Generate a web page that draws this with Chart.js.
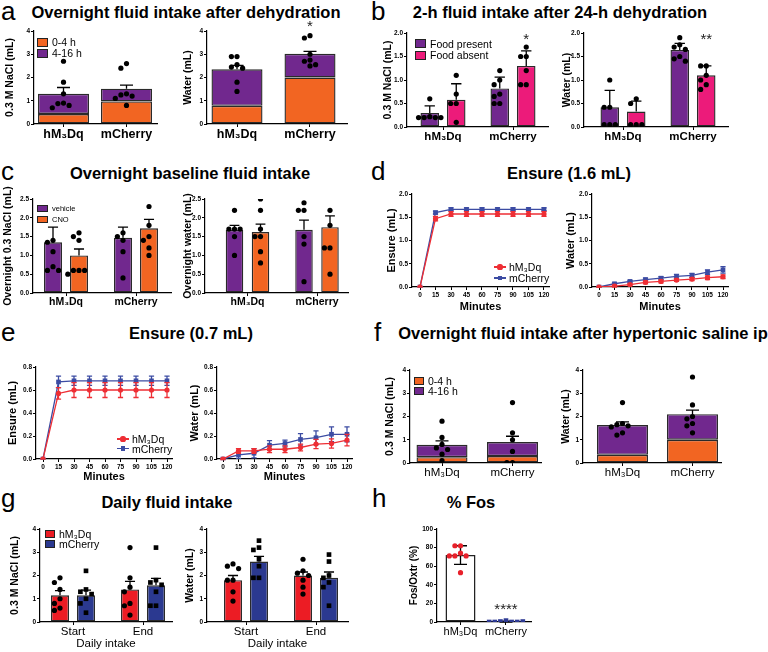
<!DOCTYPE html>
<html>
<head>
<meta charset="utf-8">
<title>Fluid intake figure</title>
<script src="https://cdn.jsdelivr.net/npm/chart.js@4.4.0/dist/chart.umd.min.js"></script>
<style>
  body { margin: 0; background: #fff; }
  #fig { position: relative; width: 768px; height: 652px; overflow: hidden; }
  #fig canvas { position: absolute; }
</style>
</head>
<body>
<div id="fig"></div>
<script>
// ---- categories / labels ----
const cats = ['hM\u2083Dq', 'mCherry'];
const periods = ['Start', 'End'];
const phases = ['0-4 h', '4-16 h'];
const foodStates = ['Food present', 'Food absent'];
const treatments = ['vehicle', 'CNO'];
const minutes = [0, 15, 30, 45, 60, 75, 90, 105, 120];

// ---- (a) overnight intake after dehydration ----
const aNaclEarly = [0.43, 0.97];
const aNaclLate = [0.87, 0.55];
const aNaclSem = [1.57, 1.67];
const aNaclDots = [[2.7, 1.8, 1.3, 0.9, 0.88, 0.8, 0.7], [2.6, 2.4, 1.3, 1.25, 1.2, 1.1, 0.8]];
const aWaterEarly = [0.78, 2.0];
const aWaterLate = [1.57, 1.02];
const aWaterSem = [2.52, 3.12];
const aWaterDots = [[2.9, 2.9, 2.55, 2.45, 2.4, 1.8, 1.4], [3.8, 3.7, 3.0, 2.75, 2.7, 2.55, 2.5]];

// ---- (b) 2-h intake after 24-h dehydration ----
const bNaclPresent = [0.3, 0.82];
const bNaclPresentSd = [0.45, 1.06];
const bNaclAbsent = [0.58, 1.3];
const bNaclAbsentSd = [0.92, 1.62];
const bNaclDotsPresent = [[0.6, 0.22, 0.2, 0.2, 0.2, 0.2], [1.2, 1.0, 0.9, 0.7, 0.65, 0.5, 0.5]];
const bNaclDotsAbsent = [[1.1, 0.7, 0.5, 0.5, 0.1], [1.7, 1.5, 1.5, 1.2, 0.9, 0.9]];
const bWaterPresent = [0.42, 1.64];
const bWaterPresentSd = [0.78, 1.78];
const bWaterAbsent = [0.33, 1.1];
const bWaterAbsentSd = [0.55, 1.3];
const bWaterDotsPresent = [[1.0, 0.42, 0.42, 0.05, 0.05, 0.05], [1.9, 1.75, 1.7, 1.65, 1.5, 1.45, 1.4]];
const bWaterDotsAbsent = [[0.6, 0.5, 0.05, 0.05, 0.05], [1.3, 1.3, 1.1, 1.0, 0.9, 0.8]];

// ---- (c) overnight baseline intake ----
const cNaclVeh = [1.35, 1.47];
const cNaclVehSem = [1.75, 1.75];
const cNaclCno = [1.0, 1.72];
const cNaclCnoSem = [1.17, 1.96];
const cNaclDotsVeh = [[1.4, 1.35, 1.1, 0.7, 0.6, 0.6], [1.6, 1.5, 1.4, 1.1, 0.4]];
const cNaclDotsCno = [[1.6, 1.5, 1.4, 0.6, 0.6, 0.6, 0.5], [2.3, 1.8, 1.5, 1.4, 1.2, 1.0]];
const cWaterVeh = [1.68, 1.68];
const cWaterVehSem = [1.8, 1.94];
const cWaterCno = [1.62, 1.75];
const cWaterCnoSem = [1.83, 2.05];
const cWaterDotsVeh = [[2.2, 1.7, 1.7, 1.7, 1.5, 1.0], [2.4, 2.2, 2.2, 1.5, 1.3, 0.3]];
const cWaterDotsCno = [[2.5, 2.2, 1.7, 1.5, 1.5, 1.1, 0.8], [2.2, 1.8, 1.2, 1.2, 0.5]];

// ---- (d) Ensure 1.6 mL ----
const dEnsureHm = [0, 1.47, 1.57, 1.57, 1.57, 1.57, 1.57, 1.57, 1.57];
const dEnsureHmErr = [0, 0.05, 0.05, 0.05, 0.05, 0.05, 0.05, 0.05, 0.05];
const dEnsureMc = [0, 1.6, 1.67, 1.67, 1.67, 1.67, 1.67, 1.67, 1.67];
const dEnsureMcErr = [0, 0.03, 0.03, 0.03, 0.03, 0.03, 0.03, 0.03, 0.03];
const dWaterHm = [0, 0.02, 0.05, 0.1, 0.12, 0.15, 0.17, 0.2, 0.22];
const dWaterHmErr = [0.01, 0.02, 0.02, 0.03, 0.03, 0.03, 0.03, 0.04, 0.04];
const dWaterMc = [0, 0.07, 0.12, 0.16, 0.19, 0.23, 0.25, 0.32, 0.37];
const dWaterMcErr = [0.01, 0.02, 0.02, 0.03, 0.03, 0.04, 0.04, 0.05, 0.07];

// ---- (e) Ensure 0.7 mL ----
const eEnsureHm = [0, 0.57, 0.6, 0.6, 0.6, 0.6, 0.6, 0.6, 0.6];
const eEnsureHmErr = [0, 0.05, 0.065, 0.065, 0.065, 0.065, 0.065, 0.065, 0.065];
const eEnsureMc = [0, 0.67, 0.68, 0.68, 0.68, 0.68, 0.68, 0.68, 0.68];
const eEnsureMcErr = [0, 0.05, 0.04, 0.04, 0.04, 0.04, 0.04, 0.04, 0.04];
const eWaterHm = [0, 0.07, 0.07, 0.085, 0.085, 0.1, 0.13, 0.135, 0.165];
const eWaterHmErr = [0.005, 0.02, 0.02, 0.03, 0.03, 0.03, 0.04, 0.04, 0.05];
const eWaterMc = [0, 0.035, 0.05, 0.12, 0.135, 0.17, 0.185, 0.215, 0.215];
const eWaterMcErr = [0.005, 0.03, 0.04, 0.04, 0.03, 0.05, 0.06, 0.065, 0.065];

// ---- (f) after hypertonic saline ip ----
const fNaclEarly = [0.25, 0.3];
const fNaclLate = [0.53, 0.6];
const fNaclSem = [0.95, 1.15];
const fNaclDots = [[1.8, 1.1, 0.8, 0.65, 0.58, 0.38, 0.1], [2.6, 1.3, 1.0, 0.5, 0.02, 0.02]];
const fWaterEarly = [0.35, 1.0];
const fWaterLate = [1.28, 1.1];
const fWaterSem = [1.77, 2.27];
const fWaterDots = [[2.6, 1.7, 1.65, 1.6, 1.55, 1.3, 1.2], [3.7, 2.5, 2.0, 1.9, 1.7, 1.6, 1.3]];

// ---- (g) daily intake ----
const gNaclHm = [1.15, 1.4];
const gNaclHmSem = [1.35, 1.75];
const gNaclMc = [1.15, 1.58];
const gNaclMcSem = [1.37, 1.88];
const gNaclDotsHm = [[1.9, 1.7, 1.4, 1.0, 0.8, 0.6, 0.5], [3.2, 1.9, 1.5, 1.3, 0.8, 0.7, 0.3]];
const gNaclDotsMc = [[2.2, 1.4, 1.3, 1.2, 1.0, 0.8, 0.4], [3.2, 1.8, 1.7, 1.6, 1.3, 0.7, 0.7]];
const gWaterHm = [1.8, 2.0];
const gWaterHmSem = [2.0, 2.15];
const gWaterMc = [2.6, 1.9];
const gWaterMcSem = [2.82, 2.15];
const gWaterDotsHm = [[2.5, 2.4, 2.3, 1.8, 1.8, 1.3, 0.9], [2.7, 2.2, 2.1, 2.0, 1.8, 1.5, 1.2]];
const gWaterDotsMc = [[3.5, 3.2, 3.1, 2.7, 2.4, 1.9, 1.9], [2.9, 2.6, 2.0, 1.9, 1.7, 1.5, 0.7]];

// ---- (h) % Fos ----
const hFos = [72, 0.5];
const hFosHi = [82, 1];
const hFosLo = [62, 0];
const hFosDots = [[82, 82, 74, 71, 71, 71, 53], [1.5, 0.5, 0, 0, 0, 0, 0.5]];

// ---- colours / fonts ----
const ORANGE = '#F26522', PURPLE = '#71288E', PINK = '#EC1B7A';
const RED = '#EC1C24', BLUE = '#2B3990', LRED = '#EE2E34', LBLUE = '#3C4CA3';
const EDGE = '#2a2a2a';
const BF = "'Liberation Sans', Arial, Helvetica, sans-serif";
Chart.defaults.font.family = BF;
Chart.defaults.color = '#000';

const fig = document.getElementById('fig');

function font(size, bold) {
  return { family: BF, size: size, weight: bold ? 'bold' : 'normal', lineHeight: 1.2 };
}

// pixel frame of each plot: y title centre, axis line, axis end, top/bottom of y range,
// group centres (bar charts) or pixels of 0 and 120 min (line charts)
const lay = {
  a1: { tx: 10, x0: 34, x1: 157, yTop: 31, yBot: 124, c0: 63.5, c1: 126.5 },
  a2: { tx: 188, x0: 207, x1: 347, yTop: 31, yBot: 124, c0: 237, c1: 310 },
  b1: { tx: 388, x0: 407, x1: 548, yTop: 33, yBot: 127, c0: 443, c1: 513 },
  b2: { tx: 567, x0: 584, x1: 728, yTop: 33, yBot: 127, c0: 623, c1: 693 },
  c1: { tx: 8, x0: 33, x1: 171, yTop: 199, yBot: 293, c0: 66, c1: 136 },
  c2: { tx: 188, x0: 205, x1: 348, yTop: 199, yBot: 293, c0: 247.5, c1: 317 },
  d1: { tx: 392, x0: 412, x1: 549, yTop: 194, yBot: 287, p0: 420, p120: 544 },
  d2: { tx: 571, x0: 592, x1: 728, yTop: 194, yBot: 287, p0: 599, p120: 723 },
  e1: { tx: 13, x0: 36, x1: 172, yTop: 367, yBot: 459, p0: 43, p120: 167 },
  e2: { tx: 195, x0: 217, x1: 352, yTop: 367, yBot: 459, p0: 223, p120: 347 },
  f1: { tx: 390, x0: 410, x1: 541, yTop: 370, yBot: 463, c0: 442, c1: 512.5 },
  f2: { tx: 566, x0: 583, x1: 721, yTop: 370, yBot: 463, c0: 622.5, c1: 692.5 },
  g1: { tx: 15, x0: 40, x1: 172, yTop: 529, yBot: 622, c0: 73, c1: 143 },
  g2: { tx: 190, x0: 207, x1: 348, yTop: 529, yBot: 622, c0: 246, c1: 316 },
  h:  { tx: 414, x0: 437, x1: 531, yTop: 529, yBot: 622, c0: 460.5, c1: 506 }
};

// error bars drawn through the chart's own scales
function drawErr(chart, meta) {
  const ds = chart.data.datasets[meta.index];
  if (!ds.errHi) return;
  const ys = chart.scales[meta.yAxisID];
  const ctx = chart.ctx;
  ctx.save();
  ctx.strokeStyle = ds.errColor || '#000';
  ctx.lineWidth = 1.3;
  meta.data.forEach((el, i) => {
    const half = ds.capHalf || Math.min(6.5, el.width * 0.28);
    const yHi = ys.getPixelForValue(ds.errHi[i]);
    const yLo = ds.errLo ? ys.getPixelForValue(ds.errLo[i]) : el.y;
    ctx.beginPath();
    ctx.moveTo(el.x, yLo); ctx.lineTo(el.x, yHi);
    ctx.moveTo(el.x - half, yHi); ctx.lineTo(el.x + half, yHi);
    if (ds.errLo) { ctx.moveTo(el.x - half, yLo); ctx.lineTo(el.x + half, yLo); }
    ctx.stroke();
  });
  ctx.restore();
}
Chart.register({
  id: 'errbars',
  beforeDatasetDraw(chart, args) { if (args.meta.type !== 'bar') drawErr(chart, args.meta); },
  afterDatasetDraw(chart, args) { if (args.meta.type === 'bar') drawErr(chart, args.meta); }
});

// significance asterisks at data coordinates
Chart.register({
  id: 'sig',
  afterDraw(chart, args, opts) {
    const marks = opts.marks || [];
    const ctx = chart.ctx;
    ctx.save();
    ctx.fillStyle = '#222';
    ctx.font = '15px ' + BF;
    ctx.textAlign = 'center';
    ctx.textBaseline = 'middle';
    for (const m of marks) {
      const x = chart.scales.x.getPixelForValue(m.x);
      const y = chart.scales.y.getPixelForValue(m.y);
      ctx.fillText(m.text, x, y + 15 * 0.22);
    }
    ctx.restore();
  }
});

// spread the individual points of one group sideways where they would overlap
function swarm(vals, cx, L, max) {
  const unitPx = L.c1 - L.c0, valPx = (L.yBot - L.yTop) / max, d = 5.6;
  const placed = [];
  vals.forEach(v => {
    const py = v * valPx;
    for (let k = 0; k < 30; k++) {
      const off = Math.ceil(k / 2) * (k % 2 ? -1 : 1) * d;
      if (placed.every(p => Math.hypot(p.px - off, p.py - py) >= d * 0.95)) {
        placed.push({ px: off, py: py, v: v });
        break;
      }
    }
  });
  return placed.map(p => ({ x: cx + p.px / unitPx, y: p.v }));
}

function bars(vals, color, pct, extra) {
  return Object.assign({
    type: 'bar',
    data: vals.map((v, i) => ({ x: i, y: v })),
    backgroundColor: color, borderColor: EDGE, borderWidth: 1.4, borderSkipped: false,
    categoryPercentage: pct.c, barPercentage: pct.b
  }, extra || {});
}

let dotCount = 0;
function dots(points, color, style) {
  dotCount++;
  return {
    type: 'scatter', data: points, backgroundColor: color, borderWidth: 0,
    pointRadius: style === 'rect' ? 3.3 : 2.6, pointStyle: style || 'circle',
    order: -1, stack: 'dots' + dotCount
  };
}

function line(vals, err, color, style) {
  return {
    type: 'line',
    data: minutes.map((m, i) => ({ x: m, y: vals[i] })),
    borderColor: color, backgroundColor: color, borderWidth: 1.3, tension: 0,
    pointRadius: style === 'rect' ? 3.3 : 2.6, pointStyle: style, pointBorderWidth: 0,
    errHi: vals.map((v, i) => v + err[i]), errLo: vals.map((v, i) => v - err[i]),
    errColor: color, capHalf: 2.6
  };
}

function plot(L, o, datasets) {
  const padTop = o.padTop || 14, padRight = o.padRight || 10, ytSize = o.ytSize || 10.5;
  const left = Math.round(L.tx - ytSize * 0.6);
  const top = Math.round(L.yTop - padTop);
  const cv = document.createElement('canvas');
  cv.width = Math.round(L.x1 + padRight - left);
  cv.height = Math.round(L.yBot + o.xh - top);
  cv.style.left = left + 'px';
  cv.style.top = top + 'px';
  fig.appendChild(cv);
  const yw = L.x0 - left;

  const grid = { drawOnChartArea: false, tickLength: 3, color: '#000', lineWidth: 1 };
  const border = { color: '#000', width: 1.2 };
  let x;
  if (o.kind === 'line') {
    const k = (L.p120 - L.p0) / 120;
    x = {
      type: 'linear', min: -(L.p0 - L.x0) / k, max: 120 + (L.x1 - L.p120) / k,
      afterBuildTicks: s => { s.ticks = minutes.map(v => ({ value: v })); },
      ticks: { autoSkip: false, maxRotation: 0, padding: 1, font: font(6.5, true) }
    };
  } else {
    const u = L.c1 - L.c0;
    x = {
      type: 'linear', offset: false, stacked: !!o.stacked,
      min: (L.x0 - L.c0) / u, max: (L.x1 - L.c0) / u,
      afterBuildTicks: s => { s.ticks = o.labels.map((_, i) => ({ value: i })); },
      ticks: { autoSkip: false, maxRotation: 0, padding: 0, font: o.xfont, callback: v => o.labels[v] }
    };
  }
  x.grid = Object.assign({ offset: false }, grid);
  x.border = border;
  x.afterFit = s => { s.height = o.xh; };
  x.title = o.xtitle ? { display: true, text: o.xtitle, font: o.xtitleFont, padding: 0 } : { display: false };

  return new Chart(cv, {
    type: o.kind === 'line' ? 'line' : 'bar',
    data: { datasets: datasets },
    options: {
      responsive: false, animation: false, events: [],
      layout: { padding: { top: L.yTop - top, right: padRight, left: 0, bottom: 0 } },
      plugins: { legend: { display: false }, tooltip: { enabled: false }, sig: { marks: o.marks || [] } },
      scales: {
        x: x,
        y: {
          type: 'linear', min: 0, max: o.max, stacked: !!o.stacked,
          ticks: { stepSize: o.step, callback: v => v.toFixed(o.dec || 0), font: font(6.5, true), padding: 1 },
          grid: grid, border: border,
          title: { display: true, text: o.ytitle, font: font(ytSize, true), padding: 0 },
          afterFit: s => { s.width = yw; }
        }
      }
    }
  });
}

// stacked 0-4 h / 4-16 h bars with individual totals
function stackedPanel(L, early, late, sem, pts, ytitle, xfont, marks) {
  const u = L.c1 - L.c0;
  const pct = { c: 1, b: 51 / u };
  const ds = [
    bars(early, ORANGE, pct),
    bars(late, PURPLE, pct, { errHi: sem })
  ];
  pts.forEach((g, i) => ds.push(dots(swarm(g, i, L, 4), '#000')));
  return plot(L, { stacked: true, max: 4, step: 1, ytitle: ytitle, labels: cats, xfont: xfont, xh: 22, marks: marks }, ds);
}

// two bars per group (side by side) with individual points
function groupedPanel(L, series, o) {
  const u = L.c1 - L.c0;
  const sep = o.sep || 26, w = o.w || 18.5;
  const pct = { c: 2 * sep / u, b: w / sep };
  const ds = [];
  series.forEach((s, j) => {
    ds.push(bars(s.vals, s.color, pct, { errHi: s.err }));
    s.pts.forEach((g, i) => ds.push(dots(swarm(g, i + (j - 0.5) * sep / u, L, o.max), '#000', s.style)));
  });
  return plot(L, o, ds);
}

// ---- text: panel letters, titles, legends ----
function addText(txt, x, y, css) {
  const d = document.createElement('div');
  d.textContent = txt;
  d.style.cssText = 'position:absolute;white-space:nowrap;line-height:1;left:' + x + 'px;top:' + y + 'px;font-family:' + BF + ';' + css;
  fig.appendChild(d);
  return d;
}
function letter(t, x, baseline) { addText(t, x, baseline - 0.85 * 26, 'font-size:26px;'); }
function title(t, cx, cy) { addText(t, cx, cy, 'font-size:16.5px;font-weight:bold;transform:translate(-50%,-50%);'); }
function box(x, y, w, h, color) {
  const d = document.createElement('div');
  d.style.cssText = 'position:absolute;box-sizing:border-box;border:1.3px solid #222;left:' + x + 'px;top:' + y + 'px;width:' + w + 'px;height:' + h + 'px;background:' + color + ';';
  fig.appendChild(d);
  return d;
}
function swatchLegend(x, cy, w, h, color, text, size) {
  box(x, cy - h / 2, w, h, color);
  addText(text, x + w + 4, cy, 'font-size:' + size + 'px;transform:translateY(-50%);');
}
function lineLegend(x, cy, color, style, text) {
  const l = document.createElement('div');
  l.style.cssText = 'position:absolute;left:' + x + 'px;top:' + (cy - 0.65) + 'px;width:12px;height:1.3px;background:' + color + ';';
  fig.appendChild(l);
  const m = document.createElement('div');
  const s = style === 'rect' ? 4.6 : 5.2;
  m.style.cssText = 'position:absolute;left:' + (x + 6 - s / 2) + 'px;top:' + (cy - s / 2) + 'px;width:' + s + 'px;height:' + s + 'px;background:' + color + ';border-radius:' + (style === 'rect' ? '0' : '50%') + ';';
  fig.appendChild(m);
  addText(text, x + 15, cy, 'font-size:10.5px;transform:translateY(-50%);');
}

letter('a', 1, 20); letter('b', 371, 20);
letter('c', 1, 180); letter('d', 371, 180);
letter('e', 1, 341); letter('f', 374, 341);
letter('g', 1, 507); letter('h', 372, 507);

title('Overnight fluid intake after dehydration', 186, 12);
title('2-h fluid intake after 24-h dehydration', 560, 12);
title('Overnight baseline fluid intake', 190, 173);
title('Ensure (1.6 mL)', 569, 173);
title('Ensure (0.7 mL)', 191, 333);
title('Overnight fluid intake after hypertonic saline ip', 583, 333);
title('Daily fluid intake', 167, 502);
title('% Fos', 471, 502);

// ---- charts ----
stackedPanel(lay.a1, aNaclEarly, aNaclLate, aNaclSem, aNaclDots, '0.3 M NaCl (mL)', font(12.5, true));
stackedPanel(lay.a2, aWaterEarly, aWaterLate, aWaterSem, aWaterDots, 'Water (mL)', font(12.5, true),
  [{ x: 1, y: 4.3, text: '*' }]);
swatchLegend(37, 42, 11, 9, ORANGE, phases[0], 10.5);
swatchLegend(37, 53, 11, 9, PURPLE, phases[1], 10.5);

const bSepX = 0.5 * 26.5 / 70;
groupedPanel(lay.b1, [
  { vals: bNaclPresent, err: bNaclPresentSd, color: PURPLE, pts: bNaclDotsPresent },
  { vals: bNaclAbsent, err: bNaclAbsentSd, color: PINK, pts: bNaclDotsAbsent }
], { max: 2, step: 0.5, dec: 1, ytitle: '0.3 M NaCl (mL)', labels: cats, xfont: font(11.5, true), xh: 22, sep: 26.5, w: 18.5,
     marks: [{ x: 1 + bSepX, y: 1.92, text: '*' }] });
groupedPanel(lay.b2, [
  { vals: bWaterPresent, err: bWaterPresentSd, color: PURPLE, pts: bWaterDotsPresent },
  { vals: bWaterAbsent, err: bWaterAbsentSd, color: PINK, pts: bWaterDotsAbsent }
], { max: 2, step: 0.5, dec: 1, ytitle: 'Water (mL)', labels: cats, xfont: font(11.5, true), xh: 22, sep: 26.5, w: 18.5,
     marks: [{ x: 1 + bSepX, y: 1.92, text: '**' }] });
swatchLegend(415, 43.5, 11, 9, PURPLE, foodStates[0], 10.5);
swatchLegend(415, 55, 11, 9, PINK, foodStates[1], 10.5);

groupedPanel(lay.c1, [
  { vals: cNaclVeh, err: cNaclVehSem, color: PURPLE, pts: cNaclDotsVeh },
  { vals: cNaclCno, err: cNaclCnoSem, color: ORANGE, pts: cNaclDotsCno }
], { max: 2.5, step: 0.5, dec: 1, ytitle: 'Overnight 0.3 NaCl (mL)', labels: cats, xfont: font(10.5, true), xh: 22, sep: 26, w: 18 });
groupedPanel(lay.c2, [
  { vals: cWaterVeh, err: cWaterVehSem, color: PURPLE, pts: cWaterDotsVeh },
  { vals: cWaterCno, err: cWaterCnoSem, color: ORANGE, pts: cWaterDotsCno }
], { max: 2.5, step: 0.5, dec: 1, ytitle: 'Overnight water (mL)', labels: cats, xfont: font(10.5, true), xh: 22, sep: 26, w: 17.5 });
swatchLegend(37, 208.5, 11, 7, PURPLE, treatments[0], 7.5);
swatchLegend(37, 219.5, 11, 7, ORANGE, treatments[1], 7.5);

plot(lay.d1, { kind: 'line', max: 2, step: 0.5, dec: 1, ytitle: 'Ensure (mL)', ytSize: 11, xh: 27, xtitle: 'Minutes', xtitleFont: font(11, true) },
  [line(dEnsureHm, dEnsureHmErr, LRED, 'circle'), line(dEnsureMc, dEnsureMcErr, LBLUE, 'rect')]);
plot(lay.d2, { kind: 'line', max: 2, step: 0.5, dec: 1, ytitle: 'Water (mL)', ytSize: 11, xh: 27, xtitle: 'Minutes', xtitleFont: font(11, true) },
  [line(dWaterHm, dWaterHmErr, LRED, 'circle'), line(dWaterMc, dWaterMcErr, LBLUE, 'rect')]);
lineLegend(494, 267, LRED, 'circle', cats[0]);
lineLegend(494, 278, LBLUE, 'rect', cats[1]);

plot(lay.e1, { kind: 'line', max: 0.8, step: 0.2, dec: 1, ytitle: 'Ensure (mL)', ytSize: 11, xh: 25, xtitle: 'Minutes', xtitleFont: font(11, true) },
  [line(eEnsureHm, eEnsureHmErr, LRED, 'circle'), line(eEnsureMc, eEnsureMcErr, LBLUE, 'rect')]);
plot(lay.e2, { kind: 'line', max: 0.8, step: 0.2, dec: 1, ytitle: 'Water (mL)', ytSize: 11, xh: 25, xtitle: 'Minutes', xtitleFont: font(11, true) },
  [line(eWaterHm, eWaterHmErr, LRED, 'circle'), line(eWaterMc, eWaterMcErr, LBLUE, 'rect')]);
lineLegend(117, 439, LRED, 'circle', cats[0]);
lineLegend(117, 448.5, LBLUE, 'rect', cats[1]);

stackedPanel(lay.f1, fNaclEarly, fNaclLate, fNaclSem, fNaclDots, '0.3 M NaCl (mL)', font(11.5, false));
stackedPanel(lay.f2, fWaterEarly, fWaterLate, fWaterSem, fWaterDots, 'Water (mL)', font(11.5, false));
swatchLegend(414, 381, 10, 8, ORANGE, phases[0], 10.5);
swatchLegend(414, 391, 10, 8, PURPLE, phases[1], 10.5);

groupedPanel(lay.g1, [
  { vals: gNaclHm, err: gNaclHmSem, color: RED, pts: gNaclDotsHm, style: 'circle' },
  { vals: gNaclMc, err: gNaclMcSem, color: BLUE, pts: gNaclDotsMc, style: 'rect' }
], { max: 4, step: 1, ytitle: '0.3 M NaCl (mL)', labels: periods, xfont: font(11.5, false), xh: 29,
     xtitle: 'Daily intake', xtitleFont: font(11.5, false), sep: 26, w: 18 });
groupedPanel(lay.g2, [
  { vals: gWaterHm, err: gWaterHmSem, color: RED, pts: gWaterDotsHm, style: 'circle' },
  { vals: gWaterMc, err: gWaterMcSem, color: BLUE, pts: gWaterDotsMc, style: 'rect' }
], { max: 4, step: 1, ytitle: 'Water (mL)', labels: periods, xfont: font(11.5, false), xh: 29,
     xtitle: 'Daily intake', xtitleFont: font(11.5, false), sep: 26, w: 18 });
swatchLegend(45, 534, 10, 8, RED, cats[0], 10.5);
swatchLegend(45, 544, 10, 8, BLUE, cats[1], 10.5);

// (h) single white bars, mean +/- SD
(function () {
  const L = lay.h;
  const u = L.c1 - L.c0;
  const ds = [
    bars(hFos, '#fff', { c: 1, b: 30 / u }, { errHi: hFosHi, errLo: hFosLo, borderColor: '#222', borderWidth: 1.5 }),
    dots(swarm(hFosDots[0], 0, L, 100), '#E8202A', 'circle'),
    dots(swarm(hFosDots[1], 1, L, 100), '#2E3A94', 'rect')
  ];
  plot(L, { max: 100, step: 20, ytitle: 'Fos/Oxtr (%)', ytSize: 10, labels: cats, xfont: font(11, false), xh: 22,
            marks: [{ x: 1, y: 17, text: '****' }] }, ds);
})();
</script>
</body>
</html>
